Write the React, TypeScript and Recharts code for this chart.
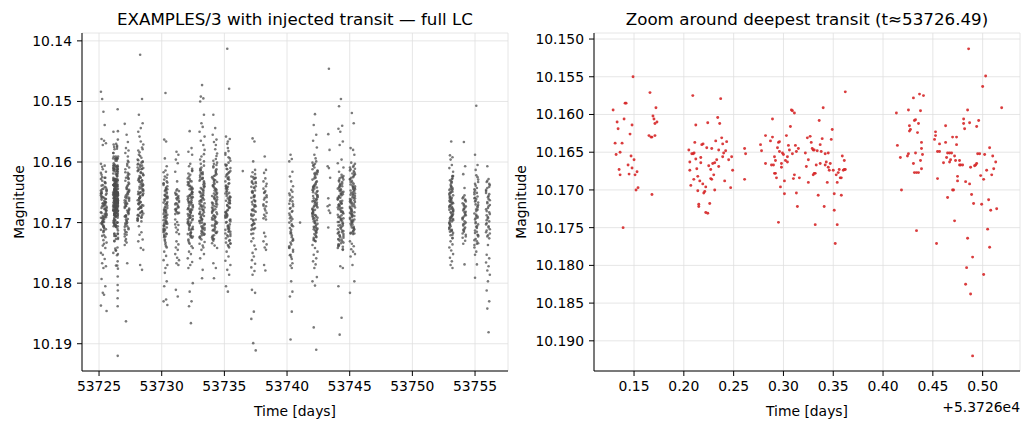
import React from 'react';
import { ScatterChart, Scatter, XAxis, YAxis, CartesianGrid } from 'recharts';

// Night containing the deepest transit; times below are offsets from this day.
const TRANSIT_DAY = 53726;

// [time offset (d), magnitude] for the transit night.
const TRANSIT_NIGHT: [number, number][] = [
  [0.129, 10.1594], [0.133, 10.161], [0.134, 10.1619], [0.14, 10.1606], [0.141, 10.1585], [0.142, 10.1585],
  [0.131, 10.1638], [0.138, 10.1638], [0.132, 10.1653], [0.136, 10.165], [0.148, 10.1614], [0.146, 10.1626],
  [0.149, 10.155], [0.147, 10.1655], [0.15, 10.166], [0.135, 10.1673], [0.136, 10.168], [0.144, 10.1667],
  [0.145, 10.1679], [0.148, 10.1671], [0.151, 10.168], [0.153, 10.1676], [0.152, 10.17], [0.154, 10.1697],
  [0.139, 10.175], [0.166, 10.1571], [0.169, 10.1602], [0.17, 10.1606], [0.172, 10.1591], [0.171, 10.1612],
  [0.173, 10.161], [0.165, 10.1628], [0.167, 10.163], [0.168, 10.163], [0.171, 10.1628], [0.168, 10.1706],
  [0.209, 10.1575], [0.205, 10.1647], [0.208, 10.1652], [0.2093, 10.1652], [0.2103, 10.1651], [0.206, 10.1663],
  [0.212, 10.1614], [0.211, 10.1637], [0.212, 10.1659], [0.217, 10.1657], [0.217, 10.1664], [0.213, 10.1672],
  [0.206, 10.1674], [0.21, 10.1686], [0.214, 10.1682], [0.216, 10.1688], [0.207, 10.1694], [0.214, 10.1701],
  [0.219, 10.1692], [0.22, 10.1704], [0.221, 10.1702], [0.222, 10.1696], [0.215, 10.1719], [0.215, 10.1722],
  [0.222, 10.173], [0.224, 10.1731], [0.226, 10.1718], [0.218, 10.164], [0.2193, 10.1639], [0.224, 10.1611],
  [0.223, 10.1644], [0.225, 10.1668], [0.227, 10.1673], [0.228, 10.1645], [0.229, 10.1665], [0.227, 10.1685],
  [0.228, 10.1686], [0.23, 10.168], [0.231, 10.17], [0.232, 10.1635], [0.231, 10.1664], [0.233, 10.166],
  [0.234, 10.1604], [0.236, 10.1612], [0.237, 10.1579], [0.235, 10.1647], [0.235, 10.1669], [0.238, 10.1631],
  [0.239, 10.1639], [0.239, 10.1656], [0.24, 10.1651], [0.242, 10.1648], [0.243, 10.1636], [0.241, 10.1688],
  [0.245, 10.166], [0.248, 10.1656], [0.249, 10.1674], [0.247, 10.1697], [0.261, 10.1645], [0.262, 10.1652],
  [0.261, 10.1686],
  [0.277, 10.164], [0.278, 10.1648], [0.282, 10.1628], [0.282, 10.1665], [0.287, 10.1635], [0.289, 10.163],
  [0.289, 10.1606], [0.288, 10.1667], [0.29, 10.1667], [0.291, 10.1656], [0.292, 10.1661], [0.291, 10.1678],
  [0.292, 10.1678], [0.293, 10.1684], [0.294, 10.1644], [0.295, 10.1637], [0.296, 10.1636], [0.296, 10.1649],
  [0.297, 10.1696], [0.298, 10.1665], [0.298, 10.167], [0.299, 10.1651], [0.3, 10.1653], [0.295, 10.1743],
  [0.301, 10.1705], [0.301, 10.1688], [0.302, 10.1661], [0.304, 10.1663], [0.303, 10.1628], [0.304, 10.1656],
  [0.305, 10.1641], [0.306, 10.1647], [0.307, 10.1616], [0.308, 10.1594], [0.309, 10.1595], [0.311, 10.1598],
  [0.309, 10.1652], [0.31, 10.1685], [0.311, 10.168], [0.312, 10.1641], [0.313, 10.1649], [0.313, 10.1704],
  [0.314, 10.1722], [0.315, 10.1645], [0.316, 10.1684], [0.322, 10.1651], [0.323, 10.1669], [0.324, 10.1631],
  [0.325, 10.166], [0.325, 10.169], [0.3268, 10.1629], [0.3279, 10.1637], [0.3289, 10.1645], [0.3299, 10.1647],
  [0.3309, 10.1647], [0.3339, 10.1648], [0.3299, 10.168], [0.3309, 10.1678], [0.3319, 10.1678], [0.3329, 10.1667],
  [0.3349, 10.1707], [0.3319, 10.1746], [0.3359, 10.1608], [0.3369, 10.164], [0.3379, 10.1649], [0.3369, 10.1665],
  [0.3389, 10.1632], [0.3399, 10.1591], [0.3409, 10.1722], [0.3419, 10.1652], [0.3419, 10.1667], [0.343, 10.1663],
  [0.344, 10.169], [0.345, 10.1651], [0.345, 10.167], [0.346, 10.1674], [0.347, 10.1665], [0.348, 10.1633],
  [0.349, 10.162], [0.35, 10.1674], [0.351, 10.1705], [0.351, 10.1727], [0.352, 10.1771], [0.353, 10.168],
  [0.354, 10.169], [0.354, 10.1746], [0.355, 10.1677], [0.356, 10.1673], [0.357, 10.1684], [0.3581, 10.1684],
  [0.3581, 10.1707], [0.3591, 10.1655], [0.3601, 10.1674], [0.3611, 10.1673], [0.3621, 10.1673], [0.3611, 10.1661],
  [0.3621, 10.157],
  [0.4134, 10.1598], [0.4144, 10.1641], [0.4174, 10.1657], [0.4185, 10.17], [0.4245, 10.1655], [0.4255, 10.1594],
  [0.4255, 10.1652], [0.4265, 10.1615], [0.4265, 10.1622], [0.4275, 10.162], [0.4305, 10.1578], [0.4315, 10.1608],
  [0.4326, 10.1607], [0.4326, 10.1651], [0.4305, 10.1665], [0.4315, 10.1677], [0.4336, 10.1677], [0.4356, 10.1677],
  [0.4336, 10.1754], [0.4346, 10.1624], [0.4356, 10.1612], [0.4366, 10.1573], [0.4376, 10.1595], [0.4386, 10.1637],
  [0.4386, 10.1645], [0.4396, 10.1653], [0.4406, 10.1575], [0.4376, 10.1661], [0.4386, 10.1672],
  [0.4517, 10.1633], [0.4527, 10.1623], [0.4527, 10.1628], [0.4537, 10.1771], [0.4547, 10.1685], [0.4547, 10.1649],
  [0.4567, 10.1649], [0.4567, 10.1639], [0.4607, 10.1664], [0.4628, 10.1615], [0.4628, 10.1637], [0.4638, 10.1657],
  [0.4648, 10.171], [0.4648, 10.1651], [0.4668, 10.1651], [0.4688, 10.1651], [0.4668, 10.1663], [0.4678, 10.166],
  [0.4698, 10.163], [0.4698, 10.17], [0.4708, 10.17], [0.4718, 10.1655], [0.4718, 10.1741], [0.4728, 10.1661],
  [0.4738, 10.163], [0.4738, 10.164], [0.4748, 10.1682], [0.4748, 10.1688], [0.4768, 10.1661], [0.4768, 10.1667],
  [0.4779, 10.1667], [0.4799, 10.1667], [0.4809, 10.1606], [0.4809, 10.1612], [0.4819, 10.1619], [0.4829, 10.1689],
  [0.4829, 10.1825], [0.4839, 10.1803], [0.4849, 10.1594], [0.4849, 10.1764], [0.4859, 10.1513], [0.4869, 10.1611],
  [0.4869, 10.1692], [0.4879, 10.1838], [0.4879, 10.167], [0.4889, 10.1706], [0.4899, 10.1789], [0.4899, 10.192],
  [0.4909, 10.1718], [0.4919, 10.1668], [0.493, 10.1667], [0.494, 10.1665], [0.494, 10.1616], [0.495, 10.1652],
  [0.497, 10.1652], [0.496, 10.1608], [0.498, 10.1681], [0.499, 10.1719], [0.5, 10.1563], [0.501, 10.1686],
  [0.501, 10.1812], [0.502, 10.1653], [0.503, 10.1549], [0.504, 10.1674], [0.505, 10.1752], [0.506, 10.1713],
  [0.507, 10.1644], [0.507, 10.1776], [0.5081, 10.1727], [0.5091, 10.168], [0.5101, 10.1655], [0.5111, 10.1672],
  [0.5131, 10.1663], [0.5141, 10.1725], [0.5191, 10.1591],
];

// Start time of every other observing night (d).
const NIGHT_STARTS = [
  53725.15, 53727.05, 53728.08, 53730.15, 53731.08, 53732.08, 53733.02, 53734.02, 53735.08, 53737.15,
  53738.12, 53740.18, 53742.03, 53743.24, 53744.05, 53745.02, 53752.95, 53754.01, 53754.95, 53755.88,
];

// Per-night observations, one token per exposure: first digit = 0.05 d step after
// the night start, last three digits = magnitude above 10.1 in units of 1e-4.
const NIGHT_OBS = [
  `0484 2496 4517 6539 1562 5565 8569 3572
   3612 7634 0655 5671 9688 2703 6626 1649 8667 4694 6641 1662 8679 3697 0618 9645 4673 7688 2702 5659
   8684 4705 2631 9652 6669 0692 5713 3638 7661 1676 1657 9676 5695 0712 7635 3658 8681 2699 4644 6667
   5699 2722 9647 7666 1684 4707 0628 8654 6678 3689 7626 0647 3668 8691 5709 6633 1659 9674 2693 4716
   2673 6691 4714 1639 8661 9680 3698 5721 0652 7671 9648 3669 6686 4706 2625 1651 7666 0683 5708 8642
   4691 8711 1652 6677 3699 7724 2645 5664 9686 0701 0603 5735 7742 2608 4729 8616 9733 6606 3738 1621
   0750 3753 6760 2767 8772 4775 1793 7805 3816 5819 0837 9846`,
  `0537 3555 5567 2577 6581 1585
   5591 1612 6634 2655 7677 3698 0719 4603 2626 7648 4669 0690 6711 1617 5638 3660
   6681 3702 0723 7609 1631 4652 2673 5694 1715 5598 7620 3642 0663 6684 4706 2727
   4645 0667 2688 6709 5625 7646 3668 1689 7659 4680 1701 5622 3644 2665 6686 0707
   3733 6627 5649 1670 2691 0712 7636 4657 0674 2695 3716 4640 7661 5683 1704 6628
   6600 0737 4606 1730 5653 2672 3697 7664 2689 5618 1658 7679 4700 3720 6650 0676
   4767 2863`,
  `4423 7496 2522 8536 5544 1550 3558
   5566 2588 9610 7631 1653 4675 0697 8579 6601 3623 8645 4667 2689 9571 6593 0615 5637 3659 7681 1603
   4625 8647 1669 6691 3584 7606 2628 5650 9672 0694 2612 6634 4656 1678 8600 9622 3644 5666 0688 7576
   3660 7682 0604 5626 9648 2670 6692 1614 8636 4658 0596 5618 7640 2662 4684 8599 9621 6643 3665 1687
   9638 3660 6683 4605 2627 1649 7671 0693 5617 8639 6675 1597 8619 3641 0663 9685 4608 7630 2652 5674
   1630 9652 5674 0696 7611 3633 8655 2677 4590 6612 7688 0609 3632 8654 5676 6698 1581 9646 2668 4651
   2706 6716 3720 8728 1731 5742 9745 4770 7778`,
  `3486 1563 4566 2594 5607
   3614 0636 5658 2680 6702 1724 4646 5668 2690 0712 6634 3656 1678 4700 1722 4644 6666 3688 0710 5632 2654
   6676 3698 1720 4642 2664 0686 5708 2730 5652 3674 0696 4718 6640 1662 4684 1706 2728 5650 6672 3694 0716
   0638 6660 4682 1704 5626 2648 3670 5692 0714 3736 6658 1680 4702 2624 3646 5669 1691 2713 0635 6657 4679
   1701 3723 6645 0667 4689 2711 5741 6621 2675 4697 5719 3661 1683 0705 2655 4739 0617 3733 5699 1629 6687
   1748 4755 0762 6770 3775 2783 5797 1805 4827 0830 6836`,
  `2583 5588 1596 4602 0616 3632
   3645 0651 5656 2660 6664 1668 4672 5675 1679 3683 0686 6648 2653 4658 3662 6666 0670 5674 2677 1681
   4685 1654 5660 3669 0678 6684 2647
   0695 3699 5704 1708 4712 2716 6719 0703 2731 5736 1741 4745 0752 3758 6762 2767 5770 1811 4822`,
  `3549 6577 1583 7588
   4603 0627 7649 2672 8694 5717 1636 6658 3681 7615 3639 0662 5684 8707 1730 6646 2668 4691
   2624 6652 8675 1698 4721 7611 0633 3655 5678 5700 8723 3640 6663 0686 2709 4631 7653 1676
   0657 4680 1702 7725 3645 6667 8689 5712 2634 8671 2693 5716 0638 6660 4683 3705 1728 7650
   3687 7710 6632 4654 1677 0699 5722 8644 2666 6643 1665 4688 8711 2733 3656 7679 0701 5724
   1660 5682 2705 3628 7650 8673 0695 4718 6641 7696 0719 4621 6644 5666 1689 2712 3735 8658
   2607 8742 0678 4692 1619 6739 5670 7614 3703
   2748 5752 0759 7765 4770 1775 8800 3814 6830 2838 5866`,
  `4473 2492 6495 1500 7522 3536 5542 0550 8558 2565 6572
   8580 2603 5626 0649 6672 4695 3718 1611 7634 2657 6680 8703 1726 4619 7642 0665 3688 5711
   1596 5620 2643 3666 7689 8712 0735 4628 6651 4674 0697 7720 2613 8636 5659 1682 6705 3728
   3609 7632 6655 4678 1701 0724 5617 8640 2663 5686 8709 3591 6646 0669 2692 4715 7606 1629
   2652 8675 0698 4721 1614 6637 5660 7683 3706 7640 3663 0686 5709 8732 1625 6648 2671 4694
   6717 1622 4645 8668 2691 3714 7599 0631 5654 0677 4700 1723 7587 3656 6679 8702 5738 2618
   7662 0685 4708 6741 5627 1650 2673 3696 8719
   3745 7752 1759 5778 4792`,
  `2522 5544 1555 7563 3567 6572
   5579 8601 3623 6645 0667 2689 4711 7605 1627 6649 1671 4693 8715 2609 3631 7653 0675 5697
   7612 3634 0656 5678 8700 1722 6616 2638 4660 0682 4704 1726 7620 3642 6664 8686 5708 2730
   7590 0625 4647 6669 5691 1713 2607 3629 8651 4673 0695 7717 2598 8633 5655 1677 6699 3721
   2640 8662 0684 4706 1728 6618 5644 7666 3688 8658 2680 5702 0724 6614 4636 3658 1680 7702
   2695 6717 8586 1639 4661 7683 0705 3727 5622 1668 5690 2712 3603 7646 8670 0692 4714 6595
   5630 3652 7674 0734 4738 8742 2767 6775 3792`,
  `3413 6479 1558 7562 4566
   3570 7594 6617 4641 1664 0688 5711 8735 2605 4628 0652 7675 2699 8722 5582 1606 6629 3653
   6676 1700 4723 8598 2621 3645 7668 0692 5715 2611 6635 8658 1682 4705 7729 0588 3612 5636
   7659 0683 4706 6730 5601 1624 2648 3671 8695 0718 4577 1640 7663 3687 6710 8734 5618 2642
   7665 3689 0712 5592 8615 1639 6662 2686 4709 1733 5625 2649 3672 7696 8719 0604 4627 6651
   5674 8698 3721 6741 0632 2656 4679 7703 1726 8610 2643 5667 0690 6714 4737 3620 1644 7668
   2691 8715 0585 4660 1684 6707 5739 7657 3680
   2748 5756 0763 8770 3778 6786 1805 4814`,
  `2561 5566 3599
   6613 3636 0659 7682 1705 4628 2651 5674 3697 6620 5643 1666 2689 0712 7635 4658
   5681 1704 6627 2650 7673 3696 0719 4642 6665 0688 4711 1634 5657 2680 3703 7626
   1649 5672 7695 3718 0641 6664 4687 2710 7633 4656 1679 5702 3625 2648 6671 0694
   2617 7640 4663 0686 6709 1632 5655 3678 4701 0624 6647 2670
   3726 0731 5738 7744 2750 4756 1762 6768 0774 5780 2786
   1811 6816 4847 0859 3899 7911`,
  `2591 4613 1618 3627 0632 5636 4640 0644 3648 1651 5655 2659 1662 5666 0670 4673 2677 3680 5684 1687
   3690 0693 4695 2650 0672 5658 1717 3723 0731 5736 2741 4745 1770 3779`,
  `2588 4595 0599 5616 1624 3632 6640
   3646 0652 5658 1664 6670 2676 4682 1688 5694 0700 6706 3712 2718 4724 5730 3736 0742 6748 1754 4760
   5649 2661 6673 0685 3697 1709 4721 2733 6745 3757 0669 5681 1693 4705 3717 6729 0741 2753 5665 1677
   4703 2715 6727 0739 3691 1655 5767 2771 4775
   3797 5814 1822 4847 2893`,
  `4521 2539 6555 1565 7576 3588 5594
   0601 4624 1647 7670 3693 6716 8614 5637 2660 1683 5706 2729 3609 7632 8655 0678 4701 6724
   8617 2640 5663 0686 6709 4603 3627 1650 7673 7696 3719 0612 5635 8658 1681 6704 2727 4621
   3644 7667 6690 4713 1606 0629 5652 8675 2698 5721 8615 3638 6661 0684 2707 4730 7620 1643
   4666 0689 7712 2605 8648 5671 1694 6717 3640 7654 0677 4700 6723 5618 1641 2664 3687 8710
   6633 1656 4679 8702 2725 3619 7642 0665 5688 2711 6599 8657 1680 4697 7662 0685 3708 5731
   2674 8692 0646 4668 1691 6714 5626 7649 3672
   0737 4742 8748 2753 6759 1764 5769 3775 7790 0797 4804 2873 6910`,
  `2446 1554 3580 0607 2610 4626 1660 3671 0673 2680 4684 1708`,
  `5496 2508 7540 1545 4550 8566 3572 6596 0602 9609 2616
   9623 3646 6669 4692 2715 1738 7636 0659 5682 8705 1728 9629 5652 0675 7698 3721 8744 2642 4665 6688
   0711 5734 7633 2656 4679 8702 9725 6625 3648 1671 6694 1717 8740 3639 0662 9685 4708 7731 2630 5653
   7676 0699 3722 8745 5645 6668 1691 9714 2737 4636 4659 8682 1705 6728 3627 7650 2673 5696 9719 0742
   3641 7664 0687 5710 9733 2632 6655 1678 8701 4724 5647 2670 9693 7716 1739 4638 0661 8684 6707 3730
   8653 4676 2699 9722 6621 0644 5667 3690 7713 1736 2658 6681 4704 1727 8626 9649 3672 5695 0718 7640
   4772 8775 1805 6857 3885`,
  `3519 6536 1577 5580 7588
   2601 6623 8645 1667 4689 7711 0609 3631 5653 8675 2697 5719 0614 6636 4658 3680 1702 7617
   4639 0661 7683 2705 8603 5625 1647 6669 3691 6713 1612 4634 8656 2678 3700 7718 0628 5650
   7672 0694 4716 6606 5642 1664 2686 3708 8620 5644 8666 3688 6710 0629 2651 4673 7695 1717
   1633 5655 2677 3699 7621 8643 0665 4687 6709 7648 3670 0692 5714 8611 1637 6659 2681 4703
   2626 8652 0674 4696 1718 6615 5641 7663 3685 3667 7689 6707 4619 1654 0676 5698 8640 2662
   5608 3682 8660 0684 6646
   0731 3735 6739 2744 5748 8752 1756 4770 7797 0816`,
  `3566 1589 5592 2596 4605 0610 6616
   6623 3640 1657 4674 2691 0708 5725 3632 5649 1666 2683 0700 6717 4628 5645 2662 0679 6696 3713 1630 4647
   0664 6681 4698 1715 5627 2644 3661 6678 2695 4712 5624 3641 1658 0675 3692 0709 5726 2638 6655 1672 4689
   2706 5623 3635 0652 4669 6686 1703 5720 0646 3663 6680 1697 4714 2651 1660 3677 6694 0711 4633 2650 5667
   4687 1704 2721 5643 6668 3684 0701 2671 4690 0654 3666 5676 1693 6682 4659 0673 5688
   2731 5736 0741 3746 6752 1758 4764 2770 5775`,
  `2567 4607 1620 3643
   3655 0660 5665 2670 4675 1680 4685 2690 0695 5700 1705 3710 2715 5720 0725 4730 1735
   1658 4663 0668 5673 2678 3683 5688 0693 3698 1703 4708 2713 0718 5723 4662 2672 5682 0692 3702 1712
   2677 4687 3769`,
  `3507 1588 5605 2613
   3622 6629 1636 4643 0650 5657 2664 6671 3678 0685 5692 2699 4706 1713 5720 2727 6734 0741 3748 1753
   5625 2639 0653 6667 3681 1695 4709 6723 0737 4651 1665 5679 2693 3707 6721 4735 0645 1659 5673 3687
   2701 4715 0729 6633 1647 3661 5675 3689 6703 1717 4731 0660 2670 5690
   4769 1791`,
  `2607
   4628 1633 6638 2643 0648 5653 3658 6663 2668 4673 0678 5683 1688 3693 5698 0703 4708 1713 6718 2723
   2631 5641 0651 4661 6671 1681 3691 1701 6711 3721 5636 0646 4656 2666 3676 6686 1696 4706 0716 5726
   3737 1753 5759 0766 4772 2779 6786 3797 1812 5830 2842 4881`,
];

const NIGHT_STEP = 0.05;

// Isolated single exposures between nights.
const LONE_POINTS: [number, number][] = [
  [53736.47, 10.1615],
  [53741.04, 10.17],
];

const FULL_X_TICKS = [53725, 53730, 53735, 53740, 53745, 53750, 53755];
const FULL_Y_TICKS = [10.14, 10.15, 10.16, 10.17, 10.18, 10.19];
const ZOOM_X_TICKS = [0.15, 0.2, 0.25, 0.3, 0.35, 0.4, 0.45, 0.5].map((d) => TRANSIT_DAY + d);
const ZOOM_Y_TICKS = [10.15, 10.155, 10.16, 10.165, 10.17, 10.175, 10.18, 10.185, 10.19];

type Pt = { x: number; y: number };

const nightPoints: Pt[] = NIGHT_OBS.flatMap((obs, i) =>
  obs
    .trim()
    .split(/\s+/)
    .map((tok) => ({
      x: NIGHT_STARTS[i] + Number(tok[0]) * NIGHT_STEP,
      y: 10.1 + Number(tok.slice(1)) / 10000,
    }))
);

const transitPoints: Pt[] = TRANSIT_NIGHT.map(([t, m]) => ({ x: TRANSIT_DAY + t, y: m }));
const lonePoints: Pt[] = LONE_POINTS.map(([t, m]) => ({ x: t, y: m }));
const fullLC: Pt[] = [...nightPoints, ...transitPoints, ...lonePoints];

const FONT = 'DejaVu Sans, Verdana, sans-serif';
const tickStyle = { fontSize: 13.9, fill: '#000', fontFamily: FONT };

const GrayDot = (p: any) => (
  <circle cx={p.cx} cy={p.cy} r={1.3} fill="#4d4d4d" fillOpacity={0.75} />
);
const RedDot = (p: any) => (
  <circle cx={p.cx} cy={p.cy} r={1.45} fill="#d62728" fillOpacity={0.9} />
);

export default function App() {
  return (
    <div
      style={{
        position: 'absolute',
        left: 0,
        top: 0,
        width: 1030,
        height: 429,
        background: '#fff',
        fontFamily: FONT,
      }}
    >
      <div style={{ position: 'absolute', left: 0, top: 0 }}>
        <ScatterChart width={520} height={429} margin={{ top: 33, right: 12, bottom: 28, left: 22 }}>
          <CartesianGrid stroke="#e0e0e0" strokeWidth={0.8} />
          <XAxis
            type="number"
            dataKey="x"
            domain={[53723.64, 53757.63]}
            ticks={FULL_X_TICKS}
            allowDataOverflow
            height={30}
            tickSize={5}
            tickMargin={5}
            tick={tickStyle}
            stroke="#000"
            tickFormatter={(v: number) => String(v)}
          />
          <YAxis
            type="number"
            dataKey="y"
            reversed
            domain={[10.1387, 10.1945]}
            ticks={FULL_Y_TICKS}
            allowDataOverflow
            width={60}
            tickSize={5}
            tickMargin={5}
            tick={tickStyle}
            stroke="#000"
            tickFormatter={(v: number) => v.toFixed(2)}
          />
          <Scatter data={fullLC} shape={GrayDot} isAnimationActive={false} />
        </ScatterChart>
      </div>
      <div style={{ position: 'absolute', left: 520, top: 0 }}>
        <ScatterChart width={510} height={429} margin={{ top: 33, right: 10, bottom: 28, left: 14 }}>
          <CartesianGrid stroke="#e0e0e0" strokeWidth={0.8} />
          <XAxis
            type="number"
            dataKey="x"
            domain={[TRANSIT_DAY + 0.1098, TRANSIT_DAY + 0.5375]}
            ticks={ZOOM_X_TICKS}
            allowDataOverflow
            height={30}
            tickSize={5}
            tickMargin={5}
            tick={tickStyle}
            stroke="#000"
            tickFormatter={(v: number) => (v - TRANSIT_DAY).toFixed(2)}
          />
          <YAxis
            type="number"
            dataKey="y"
            reversed
            domain={[10.1492, 10.194]}
            ticks={ZOOM_Y_TICKS}
            allowDataOverflow
            width={60}
            tickSize={5}
            tickMargin={5}
            tick={tickStyle}
            stroke="#000"
            tickFormatter={(v: number) => v.toFixed(3)}
          />
          <Scatter data={transitPoints} shape={RedDot} isAnimationActive={false} />
        </ScatterChart>
      </div>
      <svg
        width={1030}
        height={429}
        style={{ position: 'absolute', left: 0, top: 0, pointerEvents: 'none' }}
        fontFamily={FONT}
      >
        <text x={295} y={25} textAnchor="middle" fontSize={16.7} fill="#000">
          EXAMPLES/3 with injected transit — full LC
        </text>
        <text x={807} y={25} textAnchor="middle" fontSize={16.7} fill="#000">
          Zoom around deepest transit (t≈53726.49)
        </text>
        <text x={295} y={416} textAnchor="middle" fontSize={13.9} fill="#000">
          Time [days]
        </text>
        <text x={807} y={416} textAnchor="middle" fontSize={13.9} fill="#000">
          Time [days]
        </text>
        <text x={1020} y={412} textAnchor="end" fontSize={13.9} fill="#000">
          +5.3726e4
        </text>
        <text x={24} y={202} textAnchor="middle" fontSize={13.9} fill="#000" transform="rotate(-90 24 202)">
          Magnitude
        </text>
        <text x={526} y={202} textAnchor="middle" fontSize={13.9} fill="#000" transform="rotate(-90 526 202)">
          Magnitude
        </text>
      </svg>
    </div>
  );
}
